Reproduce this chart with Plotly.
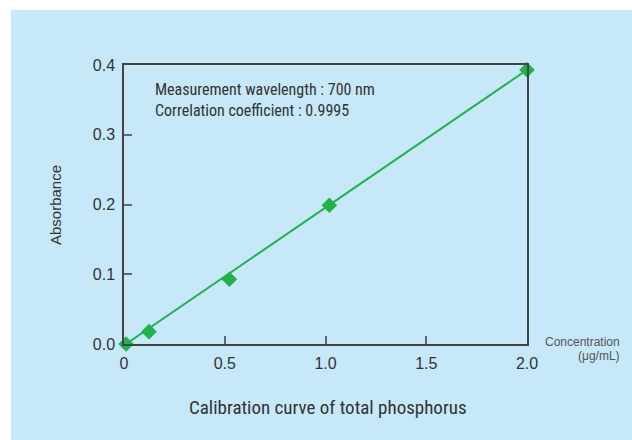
import plotly.graph_objects as go

conc = [0.01, 0.124, 0.523, 1.019, 2.0]
absorb = [0.0, 0.0177, 0.0928, 0.199, 0.393]
fit_x = [0.01, 2.0]
fit_y = [0.0, 0.393]
x_ticks = [0, 0.5, 1.0, 1.5, 2.0]
x_ticktext = ["0", "0.5", "1.0", "1.5", "2.0"]
y_ticks = [0.0, 0.1, 0.2, 0.3, 0.4]
y_ticktext = ["0.0", "0.1", "0.2", "0.3", "0.4"]

GREEN = "#22b24c"
BLUE = "#c6e8f8"
TXT = "#333333"
NARROW = "Liberation Sans Narrow, Roboto Condensed, Arial Narrow, Roboto, sans-serif"
SANS = "Liberation Sans, Arial, Helvetica, sans-serif"

fig = go.Figure()
fig.add_trace(go.Scatter(x=fit_x, y=fit_y, mode="lines",
                         line=dict(color=GREEN, width=2), cliponaxis=False,
                         hoverinfo="skip", showlegend=False))
fig.add_trace(go.Scatter(x=conc, y=absorb, mode="markers",
                         marker=dict(symbol="diamond", size=12, color=GREEN),
                         cliponaxis=False, showlegend=False))

W, H = 632, 440
fig.update_layout(
    width=W, height=H,
    margin=dict(l=124, r=105, t=65, b=96),
    paper_bgcolor="white",
    plot_bgcolor="white",
    showlegend=False,
    shapes=[dict(type="rect", xref="paper", yref="paper",
                 x0=-113/403, x1=1 + 105/403, y0=-96/279, y1=1 + 55/279,
                 fillcolor=BLUE, line=dict(width=0), layer="below")],
    xaxis=dict(range=[0, 2.0], tickvals=x_ticks, ticktext=x_ticktext,
               ticks="inside", ticklen=8, tickcolor="#666", tickwidth=1.5,
               showline=True, linecolor="#444", linewidth=1.5, mirror=True,
               showgrid=False, zeroline=False, ticklabelstandoff=4,
               tickfont=dict(family=SANS, size=16, color=TXT)),
    yaxis=dict(range=[0, 0.4], tickvals=y_ticks, ticktext=y_ticktext,
               ticks="inside", ticklen=8, tickcolor="#666", tickwidth=1.5,
               showline=True, linecolor="#444", linewidth=1.5, mirror=True,
               showgrid=False, zeroline=False, ticklabelstandoff=4,
               tickfont=dict(family=SANS, size=16, color=TXT)),
    annotations=[
        dict(text="Measurement wavelength : 700 nm<br>Correlation coefficient : 0.9995",
             xref="paper", yref="paper", x=29/403, y=1 - 13/279,
             xanchor="left", yanchor="top", align="left", showarrow=False,
             font=dict(family=NARROW, size=16, color=TXT)),
        dict(text="Absorbance", textangle=-90, xref="paper", yref="paper",
             x=(55 - 124)/403, y=(344 - 205) / 279, xanchor="center", yanchor="middle",
             showarrow=False, font=dict(family=SANS, size=15, color=TXT)),
        dict(text="Concentration", xref="paper", yref="paper",
             x=(622 - 124) / 403, y=(344 - 342) / 279, xanchor="right", yanchor="middle",
             showarrow=False, font=dict(family=SANS, size=12, color="#555")),
        dict(text="(μg/mL)", xref="paper", yref="paper",
             x=(622 - 124) / 403, y=(344 - 356) / 279, xanchor="right", yanchor="middle",
             showarrow=False, font=dict(family=SANS, size=12, color="#555")),
        dict(text="Calibration curve of total phosphorus", xref="paper", yref="paper",
             x=(328 - 124) / 403, y=(344 - 407) / 279, xanchor="center", yanchor="middle",
             showarrow=False, font=dict(family=NARROW, size=19, color=TXT)),
    ],
)

fig.write_html("out.html")
